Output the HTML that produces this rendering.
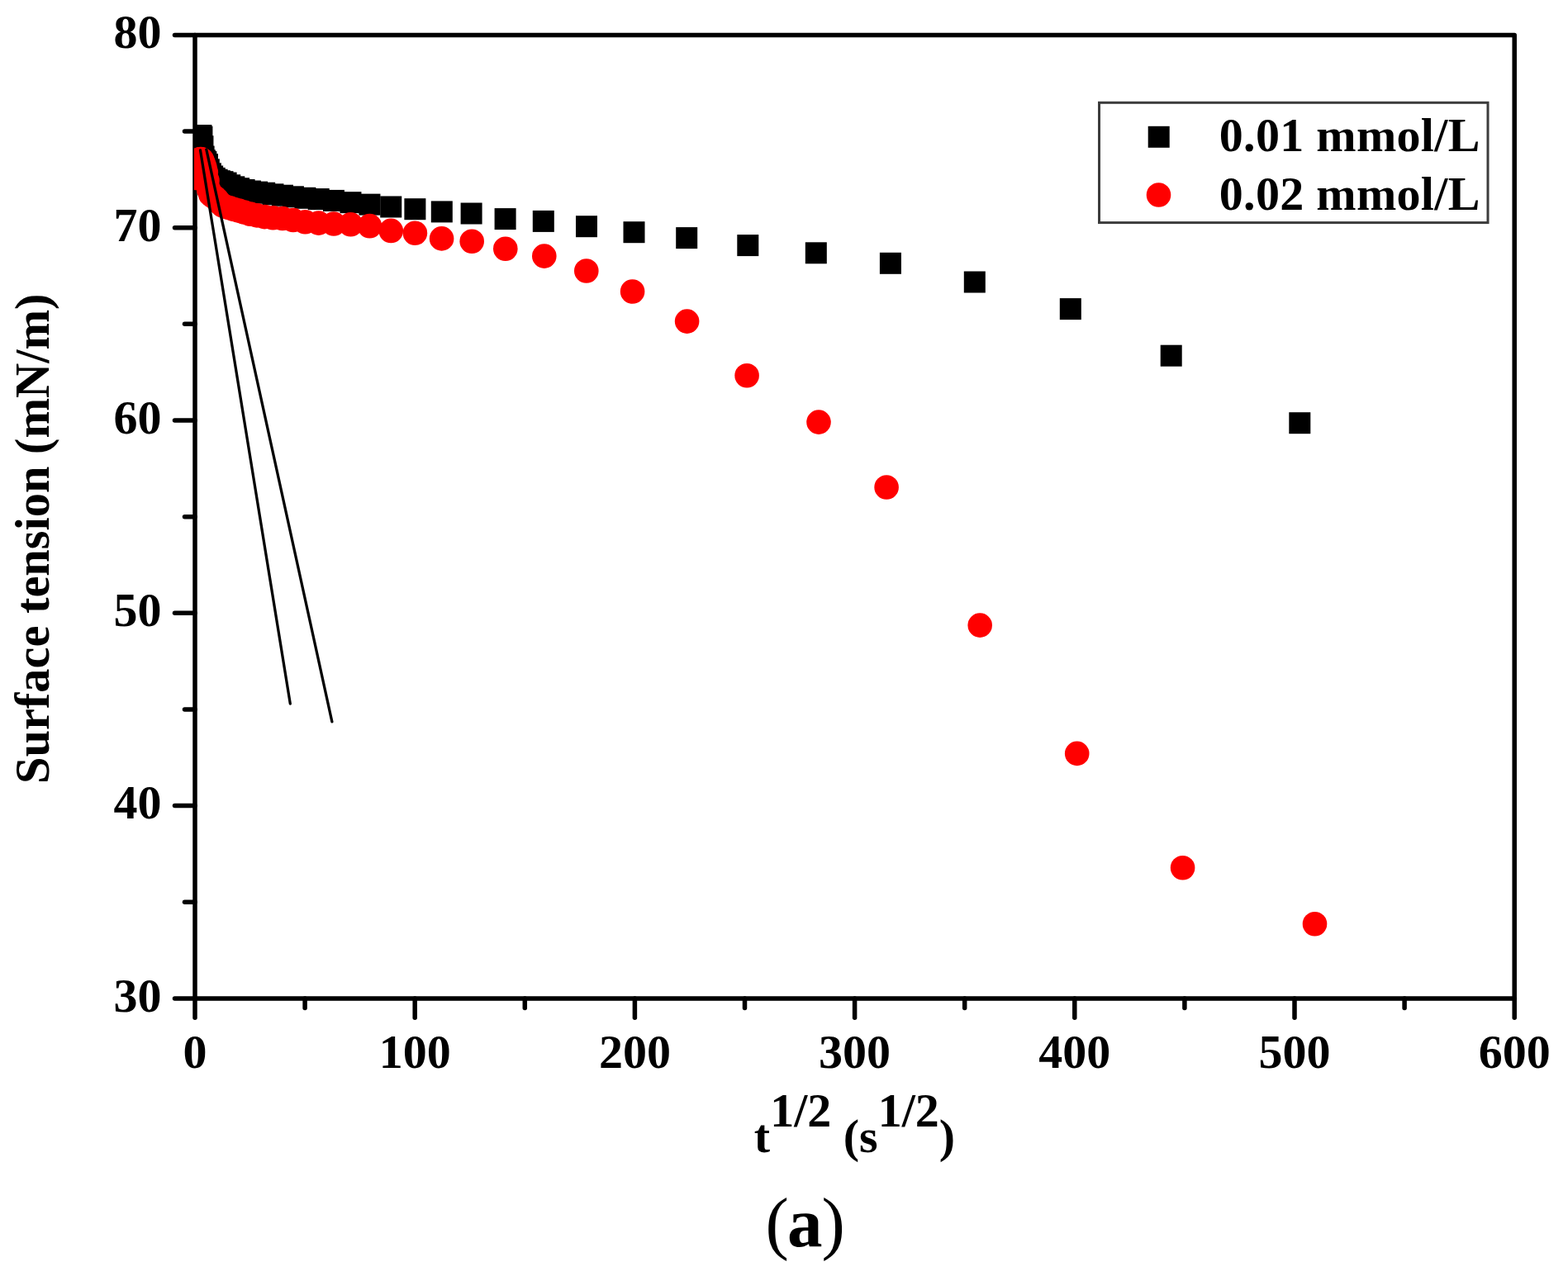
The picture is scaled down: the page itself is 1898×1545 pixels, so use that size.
<!DOCTYPE html>
<html><head><meta charset="utf-8"><title>Surface tension vs t^1/2</title>
<style>
html,body{margin:0;padding:0;background:#fff;}
body{width:1898px;height:1545px;overflow:hidden;}
svg{display:block;}
text{font-family:"Liberation Serif","Times New Roman",serif;font-weight:bold;fill:#000;}
</style></head><body>
<svg width="1898" height="1545" viewBox="0 0 1898 1545">
<defs><clipPath id="pa"><rect x="235" y="42.4" width="1597.2" height="1166.5"/></clipPath></defs>
<g stroke="#000" stroke-width="5.5" stroke-linecap="round" fill="none"><line x1="211.5" y1="1208.9" x2="236" y2="1208.9"/><line x1="223.5" y1="1092.25" x2="236" y2="1092.25"/><line x1="211.5" y1="975.6" x2="236" y2="975.6"/><line x1="223.5" y1="858.95" x2="236" y2="858.95"/><line x1="211.5" y1="742.3" x2="236" y2="742.3"/><line x1="223.5" y1="625.65" x2="236" y2="625.65"/><line x1="211.5" y1="509" x2="236" y2="509"/><line x1="223.5" y1="392.35" x2="236" y2="392.35"/><line x1="211.5" y1="275.7" x2="236" y2="275.7"/><line x1="223.5" y1="159.05" x2="236" y2="159.05"/><line x1="211.5" y1="42.4" x2="236" y2="42.4"/><line x1="236" y1="1208.9" x2="236" y2="1232.2"/><line x1="369.1" y1="1208.9" x2="369.1" y2="1220.4"/><line x1="502.2" y1="1208.9" x2="502.2" y2="1232.2"/><line x1="635.3" y1="1208.9" x2="635.3" y2="1220.4"/><line x1="768.4" y1="1208.9" x2="768.4" y2="1232.2"/><line x1="901.5" y1="1208.9" x2="901.5" y2="1220.4"/><line x1="1034.6" y1="1208.9" x2="1034.6" y2="1232.2"/><line x1="1167.7" y1="1208.9" x2="1167.7" y2="1220.4"/><line x1="1300.8" y1="1208.9" x2="1300.8" y2="1232.2"/><line x1="1433.9" y1="1208.9" x2="1433.9" y2="1220.4"/><line x1="1567" y1="1208.9" x2="1567" y2="1232.2"/><line x1="1700.1" y1="1208.9" x2="1700.1" y2="1220.4"/><line x1="1833.2" y1="1208.9" x2="1833.2" y2="1232.2"/>
<rect x="236" y="42.4" width="1597.2" height="1166.5" stroke-linejoin="round"/>
</g>
<g clip-path="url(#pa)">
<g fill="#000"><rect x="225.66" y="151.2" width="26" height="26"/><rect x="225.99" y="151.2" width="26" height="26"/><rect x="226.35" y="151.2" width="26" height="26"/><rect x="226.76" y="151.2" width="26" height="26"/><rect x="227.22" y="151.2" width="26" height="26"/><rect x="227.73" y="151.2" width="26" height="26"/><rect x="228.31" y="151.2" width="26" height="26"/><rect x="228.96" y="151.2" width="26" height="26"/><rect x="229.69" y="151.2" width="26" height="26"/><rect x="230.5" y="151.2" width="26" height="26"/><rect x="231.42" y="152.8" width="26" height="26"/><rect x="232.45" y="164.26" width="26" height="26"/><rect x="233.6" y="176.56" width="26" height="26"/><rect x="234.89" y="181.31" width="26" height="26"/><rect x="236.34" y="183.05" width="26" height="26"/><rect x="237.97" y="186.16" width="26" height="26"/><rect x="239.8" y="192.33" width="26" height="26"/><rect x="241.85" y="197.32" width="26" height="26"/><rect x="244.15" y="200.5" width="26" height="26"/><rect x="246.73" y="202.88" width="26" height="26"/><rect x="249.62" y="204.76" width="26" height="26"/><rect x="252.87" y="206.2" width="26" height="26"/><rect x="256.51" y="207.15" width="26" height="26"/><rect x="260.6" y="208.56" width="26" height="26"/><rect x="265.19" y="211.28" width="26" height="26"/><rect x="270.34" y="213.33" width="26" height="26"/><rect x="276.11" y="215.22" width="26" height="26"/><rect x="282.59" y="217" width="26" height="26"/><rect x="289.87" y="218.52" width="26" height="26"/><rect x="298.03" y="219.62" width="26" height="26"/><rect x="307.18" y="220.72" width="26" height="26"/><rect x="317.45" y="222.34" width="26" height="26"/><rect x="328.98" y="223.71" width="26" height="26"/><rect x="341.91" y="225.3" width="26" height="26"/><rect x="356.42" y="226.79" width="26" height="26"/><rect x="372.7" y="228.08" width="26" height="26"/><rect x="390.96" y="229.91" width="26" height="26"/><rect x="411.46" y="232.17" width="26" height="26"/><rect x="434.45" y="234.64" width="26" height="26"/><rect x="460.25" y="237.47" width="26" height="26"/><rect x="489.4" y="240.2" width="26" height="26"/><rect x="521.8" y="243.4" width="26" height="26"/><rect x="557.6" y="245.5" width="26" height="26"/><rect x="598.6" y="252.1" width="26" height="26"/><rect x="644.8" y="254.9" width="26" height="26"/><rect x="697" y="261.2" width="26" height="26"/><rect x="754.5" y="268.2" width="26" height="26"/><rect x="818.2" y="275.1" width="26" height="26"/><rect x="892.3" y="284.1" width="26" height="26"/><rect x="974.8" y="293.3" width="26" height="26"/><rect x="1064.9" y="305.8" width="26" height="26"/><rect x="1166.8" y="328.5" width="26" height="26"/><rect x="1282.8" y="361.1" width="26" height="26"/><rect x="1404.7" y="417.7" width="26" height="26"/><rect x="1560.3" y="499.2" width="26" height="26"/></g>
<g fill="#ff0000"><circle cx="238.66" cy="215.55" r="14.8"/><circle cx="238.99" cy="209.56" r="14.8"/><circle cx="239.35" cy="204.62" r="14.8"/><circle cx="239.76" cy="200.62" r="14.8"/><circle cx="240.22" cy="197.51" r="14.8"/><circle cx="240.73" cy="195.22" r="14.8"/><circle cx="241.31" cy="193.69" r="14.8"/><circle cx="241.96" cy="192.83" r="14.8"/><circle cx="242.69" cy="192.54" r="14.8"/><circle cx="243.5" cy="192.76" r="14.8"/><circle cx="244.42" cy="193.83" r="14.8"/><circle cx="245.45" cy="196" r="14.8"/><circle cx="246.6" cy="198.92" r="14.8"/><circle cx="247.89" cy="202.63" r="14.8"/><circle cx="249.34" cy="208.6" r="14.8"/><circle cx="250.97" cy="218.83" r="14.8"/><circle cx="252.8" cy="230.12" r="14.8"/><circle cx="254.85" cy="235.38" r="14.8"/><circle cx="257.15" cy="237.36" r="14.8"/><circle cx="259.73" cy="238.68" r="14.8"/><circle cx="262.62" cy="241.51" r="14.8"/><circle cx="265.87" cy="245.45" r="14.8"/><circle cx="269.51" cy="248.69" r="14.8"/><circle cx="273.6" cy="250.52" r="14.8"/><circle cx="278.19" cy="251.76" r="14.8"/><circle cx="283.34" cy="253.43" r="14.8"/><circle cx="289.11" cy="255.11" r="14.8"/><circle cx="295.59" cy="256.98" r="14.8"/><circle cx="302.87" cy="259.17" r="14.8"/><circle cx="311.03" cy="260.83" r="14.8"/><circle cx="320.18" cy="262.58" r="14.8"/><circle cx="330.45" cy="263.69" r="14.8"/><circle cx="341.98" cy="264.47" r="14.8"/><circle cx="354.91" cy="266.54" r="14.8"/><circle cx="369.42" cy="268.74" r="14.8"/><circle cx="385.7" cy="270.1" r="14.8"/><circle cx="403.96" cy="270.96" r="14.8"/><circle cx="424.46" cy="271.79" r="14.8"/><circle cx="447.45" cy="273.67" r="14.8"/><circle cx="473.25" cy="279.41" r="14.8"/><circle cx="502.4" cy="282.3" r="14.8"/><circle cx="534.6" cy="288.9" r="14.8"/><circle cx="571.2" cy="292.2" r="14.8"/><circle cx="611.8" cy="301.3" r="14.8"/><circle cx="658.8" cy="310.1" r="14.8"/><circle cx="709.8" cy="328" r="14.8"/><circle cx="765.6" cy="353" r="14.8"/><circle cx="831.6" cy="389.1" r="14.8"/><circle cx="904.1" cy="454.8" r="14.8"/><circle cx="991" cy="511.1" r="14.8"/><circle cx="1073.1" cy="590" r="14.8"/><circle cx="1186.2" cy="757.1" r="14.8"/><circle cx="1303.7" cy="912.4" r="14.8"/><circle cx="1431.6" cy="1050.8" r="14.8"/><circle cx="1591.5" cy="1118.8" r="14.8"/></g>
<g stroke="#000" stroke-width="3.3" stroke-linecap="round" fill="none">
<line x1="242.5" y1="182" x2="351.3" y2="852"/>
<line x1="249.8" y1="181" x2="401.9" y2="873.8"/>
</g>
</g>
<g font-size="58" text-anchor="end"><text x="195.5" y="1224.7">30</text><text x="195.5" y="991.4">40</text><text x="195.5" y="758.1">50</text><text x="195.5" y="524.8">60</text><text x="195.5" y="291.5">70</text><text x="195.5" y="58.2">80</text></g>
<g font-size="58" text-anchor="middle"><text x="236" y="1293">0</text><text x="502.2" y="1293">100</text><text x="768.4" y="1293">200</text><text x="1034.6" y="1293">300</text><text x="1300.8" y="1293">400</text><text x="1567" y="1293">500</text><text x="1833.2" y="1293">600</text></g>
<text font-size="58.4" transform="translate(58.6,949) rotate(-90)">Surface tension (mN/m)</text>
<text font-size="58" x="912.8" y="1394.9">t<tspan dy="-31.4">1/2</tspan><tspan dy="31.4"> (s</tspan><tspan dy="-31.4">1/2</tspan><tspan dy="31.4">)</tspan></text>
<g>
<rect x="1330.5" y="124.3" width="470.5" height="145.3" fill="#fff" stroke="#3c3c3c" stroke-width="3"/>
<rect x="1389.7" y="152.8" width="26" height="26" fill="#000"/>
<circle cx="1402.5" cy="236" r="14.8" fill="#ff0000"/>
<text font-size="58" x="1475.8" y="183.3" letter-spacing="0.3">0.01 mmol/L</text>
<text font-size="58" x="1475.8" y="254" letter-spacing="0.3">0.02 mmol/L</text>
</g>
<text font-size="85" x="926.6" y="1509.2"><tspan font-weight="normal">(</tspan><tspan dx="-1.9">a</tspan><tspan font-weight="normal" dx="-1">)</tspan></text>
</svg>
</body></html>
